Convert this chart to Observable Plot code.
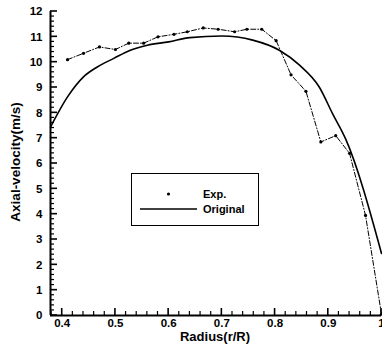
<!DOCTYPE html>
<html><head><meta charset="utf-8">
<script src="https://cdn.jsdelivr.net/npm/d3@7"></script>
<script src="https://cdn.jsdelivr.net/npm/@observablehq/plot@0.6"></script>
<style>
body{margin:0;background:#fff}
#chart svg{font-family:"Liberation Sans",Arial,sans-serif;}
#chart svg text{font-weight:bold;}
</style>
</head><body><div id="chart"></div>
<script>
const expR = [0.41, 0.44, 0.47, 0.50, 0.525, 0.553, 0.58, 0.61, 0.635, 0.665, 0.693, 0.724, 0.747, 0.775, 0.802, 0.83, 0.858, 0.886, 0.914, 0.94, 0.97, 1.0];
const expV = [10.1, 10.35, 10.6, 10.5, 10.75, 10.75, 11.0, 11.1, 11.2, 11.35, 11.3, 11.2, 11.3, 11.3, 10.85, 9.5, 8.85, 6.85, 7.1, 6.4, 3.95, 0.05];
const origR = [0.378, 0.41, 0.44, 0.466, 0.497, 0.528, 0.56, 0.6, 0.64, 0.7, 0.758, 0.808, 0.846, 0.883, 0.908, 0.933, 1.0];
const origV = [7.44, 8.63, 9.42, 9.81, 10.15, 10.47, 10.67, 10.8, 10.97, 11.03, 10.87, 10.47, 9.88, 9.02, 7.97, 6.95, 2.45];
const xTicks = [0.4, 0.5, 0.6, 0.7, 0.8, 0.9, 1];
const xTickLabels = ["0.4", "0.5", "0.6", "0.7", "0.8", "0.9", "1"];
const yTicks = [0, 1, 2, 3, 4, 5, 6, 7, 8, 9, 10, 11, 12];
const xMinor = [0.38,0.42,0.44,0.46,0.48,0.52,0.54,0.56,0.58,0.62,0.64,0.66,0.68,0.72,0.74,0.76,0.78,0.82,0.84,0.86,0.88,0.92,0.94,0.96,0.98];
const yMinor = d3.range(0, 12.001, 0.2).filter(v => Math.abs(v - Math.round(v)) > 0.01);
const legendLabels = ["Exp.", "Original"];
const xTitle = "Radius(r/R)";
const yTitle = "Axial-velocity(m/s)";

const exp = expR.map((r, i) => ({r, v: expV[i]}));
const orig = origR.map((r, i) => ({r, v: origV[i]}));
const xDomain = [0.378, 1.0];
const yDomain = [0, 12];
const W = 382, H = 347, mL = 50, mR = 1, mT = 11, mB = 32;

const chart = Plot.plot({
  width: W, height: H,
  marginLeft: mL, marginRight: mR, marginTop: mT, marginBottom: mB,
  style: {fontSize: "12px", background: "#fff", color: "#000", overflow: "visible"},
  x: {domain: xDomain},
  y: {domain: yDomain},
  marks: [
    Plot.axisX(xTicks, {tickSize: 0, tickPadding: 3, tickFormat: (d) => xTickLabels[xTicks.indexOf(d)], fontSize: 11.5, label: null}),
    Plot.axisY(yTicks, {tickSize: 0, tickPadding: 8, fontSize: 11.5, label: null}),
    Plot.ruleX([xDomain[0]], {strokeWidth: 2}),
    Plot.ruleY([0], {strokeWidth: 2}),
    Plot.line(orig, {x: "r", y: "v", curve: "monotone-x", strokeWidth: 1.6, stroke: "#000"}),
    Plot.line(exp, {x: "r", y: "v", strokeDasharray: "5,2,1,2", strokeWidth: 1, stroke: "#000"}),
    Plot.dot(exp, {x: "r", y: "v", r: 1.6, fill: "#000", stroke: null})
  ]
});
document.getElementById("chart").appendChild(chart);

const svg = d3.select(chart);
const sx = chart.scale("x"), sy = chart.scale("y");
const x0 = sx.apply(xDomain[0]), y0 = sy.apply(0);
// inward ticks, positioned through Plot's scales
const tg = svg.append("g");
function tick(x1, y1, x2, y2, w) {
  tg.append("line").attr("x1", x1).attr("y1", y1).attr("x2", x2).attr("y2", y2)
    .style("stroke", "#000").style("stroke-width", w);
}
xTicks.forEach(v => tick(sx.apply(v), y0, sx.apply(v), y0 - 7, 1.6));
xMinor.forEach(v => tick(sx.apply(v), y0, sx.apply(v), y0 - 4, 1.2));
yTicks.forEach(v => tick(x0, sy.apply(v), x0 + 7, sy.apply(v), 1.6));
yMinor.forEach(v => tick(x0, sy.apply(v), x0 + 4, sy.apply(v), 1.2));
// axis titles
svg.append("text").attr("x", 215).attr("y", 341).attr("text-anchor", "middle")
  .attr("font-size", 13).attr("font-weight", "bold").text(xTitle);
svg.append("text").attr("transform", "translate(20,162) rotate(-90)").attr("text-anchor", "middle")
  .attr("font-size", 13.5).attr("font-weight", "bold").text(yTitle);
// legend
const lg = svg.append("g");
lg.append("rect").attr("x", 131.5).attr("y", 173.5).attr("width", 127).attr("height", 52)
  .attr("fill", "#fff").attr("stroke", "#000").attr("stroke-width", 1);
lg.append("circle").attr("cx", 168.5).attr("cy", 194).attr("r", 1.6).attr("fill", "#000");
lg.append("line").attr("x1", 140).attr("x2", 197).attr("y1", 209).attr("y2", 209)
  .attr("stroke", "#000").attr("stroke-width", 1.6);
lg.append("text").attr("x", 203).attr("y", 198).attr("text-anchor", "start").attr("font-size", 11).attr("font-weight", "bold").text(legendLabels[0]);
lg.append("text").attr("x", 203).attr("y", 213).attr("text-anchor", "start").attr("font-size", 11).attr("font-weight", "bold").text(legendLabels[1]);
</script>
</body></html>
